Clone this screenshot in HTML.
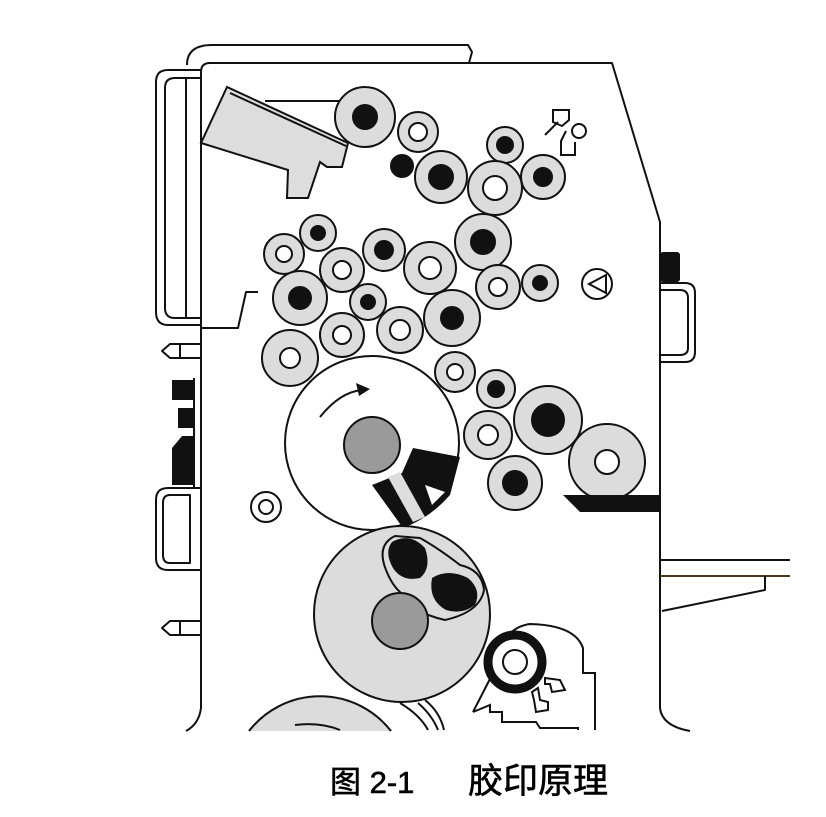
<!DOCTYPE html>
<html><head><meta charset="utf-8"><style>
html,body{margin:0;padding:0;background:#fff;overflow:hidden;width:826px;height:817px;}
svg{display:block;}
</style></head><body>
<svg width="826" height="817" viewBox="0 0 826 817" xmlns="http://www.w3.org/2000/svg">
<g stroke="#111" stroke-width="2" fill="none" stroke-linejoin="round">
<path d="M187,65 Q187,45 212,45 L468,45 L472,52 L469,63" />
<path d="M201,70 L168,70 Q156,70 156,82 L156,312 Q156,325 168,325 L201,325"/>
<path d="M201,78 L175,78 Q165,78 165,88 L165,308 Q165,318 175,318 L201,318"/>
<line x1="186" y1="78" x2="186" y2="318"/>
<path d="M186,731 Q199,724 201,708 L201,72 Q201,63 210,63 L612,63 L660,222 L660,708 Q662,726 690,731"/>
<path d="M258,292 L246,292 L238,328 L201,328"/>
<path d="M201,344 L170,344 L162,351 L170,358 L201,358 M180,344 L180,358"/>
<path d="M201,621 L170,621 L162,628 L170,635 L201,635 M180,621 L180,635"/>
<path d="M201,488 L168,488 Q156,488 156,500 L156,558 Q156,570 168,570 L201,570"/>
<path d="M190,495 L170,495 Q163,495 163,503 L163,555 Q163,563 170,563 L190,563 Z"/>
<path d="M660,283 L685,283 Q695,283 695,293 L695,352 Q695,362 685,362 L660,362"/>
<path d="M660,290 L680,290 Q688,290 688,298 L688,348 Q688,355 680,355 L660,355"/>
<line x1="660" y1="560" x2="790" y2="560"/>
<line x1="660" y1="576" x2="790" y2="576" stroke="#4a3a1a"/>
<path d="M765,576 L765,590 L662,611"/>
</g>
<g fill="#111">
<rect x="172" y="380" width="22" height="20"/>
<rect x="178" y="408" width="16" height="20"/>
<path d="M172,448 L182,436 L194,436 L194,485 L172,485 Z"/>
<rect x="660" y="252" width="20" height="30" rx="3"/>
</g>
<line x1="194" y1="378" x2="194" y2="488" stroke="#111" stroke-width="2"/>

<path d="M227,87 L201,143 L288,170 L287,198 L308,198 L320,162 L327,167 L342,167 L348,143 Z" fill="#ddd" stroke="#111" stroke-width="2"/>
<line x1="230" y1="93" x2="346" y2="146" stroke="#111" stroke-width="2"/>
<line x1="265" y1="101" x2="342" y2="101" stroke="#111" stroke-width="2"/>

<g stroke="#111" stroke-width="2">
<g fill="#dcdcdc">
<circle cx="365" cy="117" r="30"/><circle cx="418" cy="132" r="20"/>
<circle cx="441" cy="177" r="26"/><circle cx="505" cy="145" r="18"/>
<circle cx="495" cy="188" r="27"/><circle cx="543" cy="177" r="22"/>
<circle cx="318" cy="233" r="18"/><circle cx="284" cy="254" r="20"/>
<circle cx="342" cy="270" r="22"/><circle cx="384" cy="250" r="21"/>
<circle cx="430" cy="268" r="26"/><circle cx="483" cy="242" r="28"/>
<circle cx="498" cy="287" r="22"/><circle cx="540" cy="283" r="18"/>
<circle cx="300" cy="298" r="27"/><circle cx="368" cy="302" r="18"/>
<circle cx="400" cy="330" r="23"/><circle cx="452" cy="318" r="28"/>
<circle cx="342" cy="335" r="22"/><circle cx="290" cy="358" r="28"/>
<circle cx="455" cy="372" r="20"/><circle cx="496" cy="389" r="19"/>
<circle cx="548" cy="420" r="34"/><circle cx="488" cy="435" r="24"/>
<circle cx="515" cy="483" r="27"/><circle cx="607" cy="462" r="38"/>
</g>
<g fill="#111">
<circle cx="365" cy="117" r="12"/><circle cx="402" cy="166" r="11"/>
<circle cx="441" cy="177" r="12"/><circle cx="505" cy="145" r="8"/>
<circle cx="543" cy="177" r="9"/><circle cx="318" cy="233" r="7"/>
<circle cx="384" cy="250" r="9"/><circle cx="483" cy="242" r="12"/>
<circle cx="540" cy="283" r="7"/><circle cx="300" cy="298" r="11"/>
<circle cx="368" cy="302" r="7"/><circle cx="452" cy="318" r="11"/>
<circle cx="496" cy="389" r="8"/><circle cx="548" cy="420" r="16"/>
<circle cx="515" cy="483" r="12"/>
</g>
<g fill="#fff">
<circle cx="418" cy="132" r="9"/><circle cx="495" cy="188" r="12"/>
<circle cx="284" cy="254" r="8"/><circle cx="342" cy="270" r="9"/>
<circle cx="430" cy="268" r="11"/><circle cx="498" cy="287" r="9"/>
<circle cx="400" cy="330" r="10"/><circle cx="342" cy="335" r="9"/>
<circle cx="290" cy="358" r="10"/><circle cx="455" cy="372" r="8"/>
<circle cx="488" cy="435" r="10"/><circle cx="607" cy="462" r="12"/>
</g>
<circle cx="266" cy="507" r="15" fill="#fff"/><circle cx="266" cy="507" r="7" fill="#fff"/>
<circle cx="597" cy="284" r="15" fill="#fff"/>
<path d="M606,275 L606,293 L589,284 Z" fill="#fff"/>
<path d="M553,110 L569,110 L569,120 L562,126 L553,122 Z" fill="#fff"/>
<path d="M545,135 L558,122" fill="none"/>
<path d="M566,131 L561,141 L561,155 L575,155 L575,142" fill="none"/>
<circle cx="579" cy="131" r="7" fill="#fff"/>
</g>

<path d="M563,495 L660,495 L660,512 L580,512 Z" fill="#111"/>

<circle cx="372" cy="443" r="87" fill="#fff" stroke="#111" stroke-width="2"/>
<circle cx="372" cy="445" r="28" fill="#9a9a9a" stroke="#111" stroke-width="2"/>
<path d="M320,417 Q340,392 362,390" fill="none" stroke="#111" stroke-width="2"/>
<path d="M370,389 L356,383 L359,396 Z" fill="#111"/>
<path d="M372,485 L402,473 L413,448 L460,457 L450,495 Q430,518 403,528 Z" fill="#111"/>
<path d="M388,477 L400,472 L425,517 L413,522 Z" fill="#ddd"/>
<path d="M425,485 L445,492 L432,505 Z" fill="#fff"/>

<circle cx="402" cy="614" r="88" fill="#dcdcdc" stroke="#111" stroke-width="2"/>
<path d="M395,536 Q376,545 386,570 Q392,585 400,592 Q410,612 445,620 Q480,612 484,590 Q482,570 460,565 Q438,548 420,538 Z" fill="#dcdcdc" stroke="#111" stroke-width="2"/>
<path d="M392,542 Q410,532 425,548 Q432,568 420,578 Q402,582 393,568 Q384,552 392,542 Z" fill="#111"/>
<path d="M432,578 Q448,568 468,578 Q482,590 475,605 Q462,615 446,610 Q428,600 432,578 Z" fill="#111"/>
<circle cx="400" cy="621" r="28" fill="#9a9a9a" stroke="#111" stroke-width="2"/>

<path d="M249,731 A90,90 0 0 1 391,731" fill="#dcdcdc" stroke="#111" stroke-width="2"/>
<path d="M295,725 Q320,722 340,730" fill="none" stroke="#111" stroke-width="2"/>
<path d="M400,703 Q420,715 428,730 M418,703 Q432,715 438,730 M425,700 Q440,712 444,730" fill="none" stroke="#111" stroke-width="2"/>
<path d="M473,712 L493,673 Q500,628 530,624 Q575,625 583,648 L583,673 L595,673 L595,730 M578,730 L578,728 L540,728 L536,722 L502,722 L502,712 L490,712 L490,705 L473,712" fill="#fff" stroke="#111" stroke-width="2"/>
<path d="M545,678 L560,680 L565,690 L552,692 L550,684 L545,684 Z M532,692 L538,688 L540,700 L548,702 L548,710 L536,712 L534,700 Z" fill="#fff" stroke="#111" stroke-width="2"/>
<circle cx="515" cy="662" r="27" fill="#fff" stroke="#111" stroke-width="9"/>
<circle cx="515" cy="662" r="12" fill="#fff" stroke="#111" stroke-width="2"/>

<text x="330" y="793" font-family="'Liberation Sans','Noto Sans CJK SC',sans-serif" font-size="31" fill="#000" stroke="#000" stroke-width="0.6">图 2-1</text>
<text x="468" y="793" font-family="'Liberation Sans','Noto Sans CJK SC',sans-serif" font-size="35" fill="#000" stroke="#000" stroke-width="0.6">胶印原理</text>
</svg>
</body></html>
